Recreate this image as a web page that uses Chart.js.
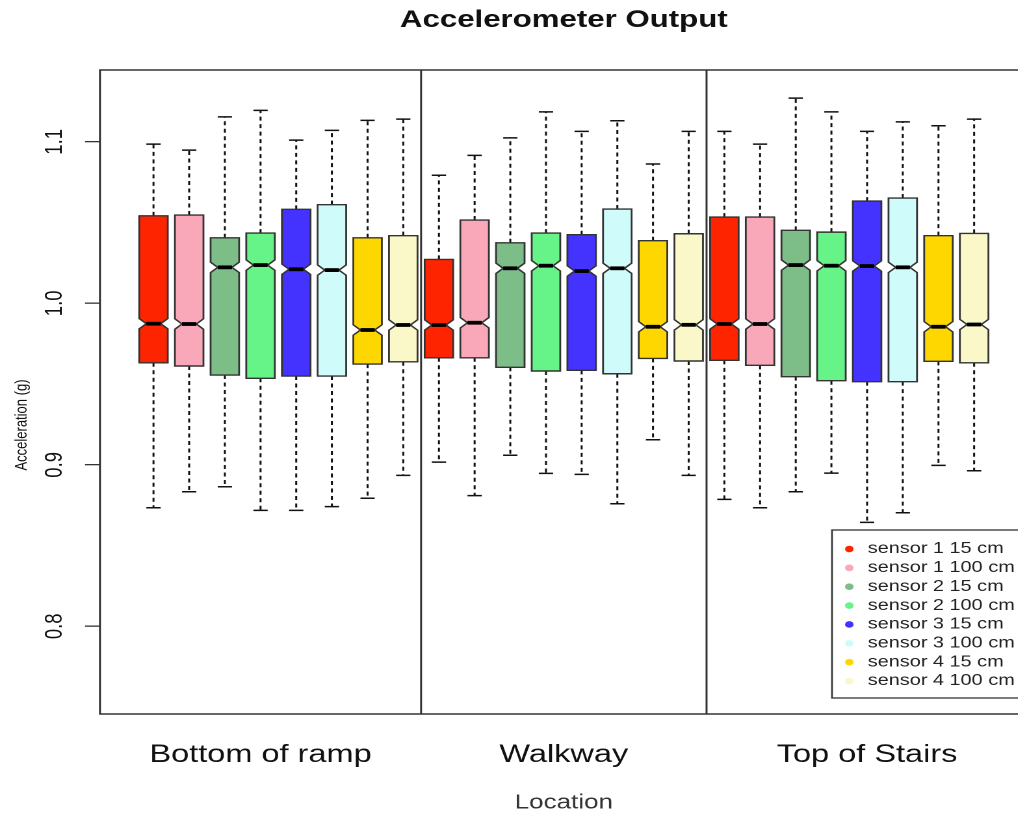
<!DOCTYPE html>
<html>
<head>
<meta charset="utf-8">
<title>Accelerometer Output</title>
<script src="https://cdn.jsdelivr.net/npm/chart.js@4.4.1/dist/chart.umd.min.js"></script>
<style>
  html, body { margin: 0; padding: 0; background: #fff; overflow: hidden; width: 1018px; height: 815px; }
  /* the original picture is stretched sideways, so the canvas is too */
  #wrap { width: 868px; height: 815px; transform: scaleX(1.3); transform-origin: 0 0; }
</style>
</head>
<body>
<div id="wrap"><canvas id="accel" width="868" height="815"></canvas></div>
<script>
///////////////////////////////// DATA /////////////////////////////////////

const locations = ['Bottom of ramp', 'Walkway', 'Top of Stairs'];
const locationTickPos = [4, 12.5, 21];

const sensors = [
  'sensor 1 15 cm', 'sensor 1 100 cm',
  'sensor 2 15 cm', 'sensor 2 100 cm',
  'sensor 3 15 cm', 'sensor 3 100 cm',
  'sensor 4 15 cm', 'sensor 4 100 cm'
];
const sensorColors = [
  '#FF2400', '#F9A8B9',
  '#7DBD88', '#66F388',
  '#4433FF', '#CFFCFB',
  '#FFD700', '#FAF8C8'
];

// one row per location, one value per sensor
const whiskerHigh = [
  [1.0986, 1.0949, 1.1155, 1.1195, 1.1011, 1.1071, 1.1133, 1.1141],
  [1.0793, 1.0916, 1.1025, 1.1186, 1.1065, 1.1131, 1.0863, 1.1065],
  [1.1065, 1.0986, 1.1271, 1.1186, 1.1065, 1.1124, 1.1100, 1.1141]
];
const upperHinge = [
  [1.0542, 1.0547, 1.0406, 1.0435, 1.0582, 1.0611, 1.0406, 1.0419],
  [1.0272, 1.0516, 1.0375, 1.0435, 1.0425, 1.0584, 1.0388, 1.0431],
  [1.0534, 1.0534, 1.0452, 1.0441, 1.0633, 1.0652, 1.0419, 1.0433]
];
const medians = [
  [0.9874, 0.9872, 1.0223, 1.0237, 1.0211, 1.0206, 0.9835, 0.9866],
  [0.9866, 0.9880, 1.0217, 1.0233, 1.0200, 1.0217, 0.9855, 0.9867],
  [0.9872, 0.9872, 1.0237, 1.0233, 1.0231, 1.0223, 0.9855, 0.9869]
];
const lowerHinge = [
  [0.9632, 0.9612, 0.9556, 0.9536, 0.9550, 0.9550, 0.9624, 0.9638],
  [0.9663, 0.9663, 0.9604, 0.9581, 0.9585, 0.9564, 0.9659, 0.9643],
  [0.9647, 0.9616, 0.9546, 0.9521, 0.9515, 0.9515, 0.9641, 0.9632]
];
const whiskerLow = [
  [0.8734, 0.8833, 0.8864, 0.8718, 0.8718, 0.8741, 0.8793, 0.8935],
  [0.9017, 0.8809, 0.9059, 0.8947, 0.8941, 0.8759, 0.9155, 0.8935],
  [0.8786, 0.8734, 0.8833, 0.8949, 0.8644, 0.8703, 0.8997, 0.8963]
];
const notchHalf = 0.0032;

const yTicks = [0.8, 0.9, 1.0, 1.1];
const yTickLabels = ['0.8', '0.9', '1.0', '1.1'];

///////////////////////////////// PLUGIN /////////////////////////////////////

const FONT = '"Liberation Sans", Arial, Helvetica, sans-serif';
Chart.defaults.font.family = FONT;

// Notched boxes (R style)
const notchedBoxes = {
  id: 'notchedBoxes',
  afterDatasetsDraw(chart) {
    const ctx = chart.ctx, xs = chart.scales.x, ys = chart.scales.y;
    const halfW = (xs.getPixelForValue(0.8) - xs.getPixelForValue(0)) / 2;
    ctx.save();
    locations.forEach((loc, g) => {
      sensors.forEach((name, s) => {
        const cx = xs.getPixelForValue(g * 8 + s + 1);
        const yHi = ys.getPixelForValue(whiskerHigh[g][s]);
        const yQ3 = ys.getPixelForValue(upperHinge[g][s]);
        const yMed = ys.getPixelForValue(medians[g][s]);
        const yQ1 = ys.getPixelForValue(lowerHinge[g][s]);
        const yLo = ys.getPixelForValue(whiskerLow[g][s]);
        const yN1 = ys.getPixelForValue(medians[g][s] + notchHalf);
        const yN2 = ys.getPixelForValue(medians[g][s] - notchHalf);
        const xl = cx - halfW, xr = cx + halfW, nw = halfW / 2;

        // whiskers
        ctx.strokeStyle = '#111';
        ctx.lineWidth = 1.5;
        ctx.setLineDash([4, 3.5]);
        ctx.beginPath();
        ctx.moveTo(cx, yQ3); ctx.lineTo(cx, yHi);
        ctx.moveTo(cx, yQ1); ctx.lineTo(cx, yLo);
        ctx.stroke();
        ctx.setLineDash([]);
        ctx.beginPath();
        ctx.moveTo(cx - halfW / 2, yHi); ctx.lineTo(cx + halfW / 2, yHi);
        ctx.moveTo(cx - halfW / 2, yLo); ctx.lineTo(cx + halfW / 2, yLo);
        ctx.stroke();

        // box with notch
        ctx.beginPath();
        ctx.moveTo(xl, yQ3);
        ctx.lineTo(xr, yQ3);
        ctx.lineTo(xr, yN1);
        ctx.lineTo(xr - nw, yMed);
        ctx.lineTo(xr, yN2);
        ctx.lineTo(xr, yQ1);
        ctx.lineTo(xl, yQ1);
        ctx.lineTo(xl, yN2);
        ctx.lineTo(xl + nw, yMed);
        ctx.lineTo(xl, yN1);
        ctx.closePath();
        ctx.fillStyle = sensorColors[s];
        ctx.fill();
        ctx.strokeStyle = '#333';
        ctx.lineWidth = 1.4;
        ctx.stroke();

        // median
        ctx.strokeStyle = '#000';
        ctx.lineWidth = 3.8;
        ctx.beginPath();
        ctx.moveTo(xl + nw, yMed); ctx.lineTo(xr - nw, yMed);
        ctx.stroke();
      });
    });
    ctx.restore();
  },
  afterDraw(chart) {
    const ctx = chart.ctx, xs = chart.scales.x, ys = chart.scales.y;
    const a = chart.chartArea;
    ctx.save();

    // frame + location dividers
    ctx.strokeStyle = '#333';
    ctx.lineWidth = 1.5;
    ctx.strokeRect(a.left, a.top, a.right - a.left, a.bottom - a.top);
    [8.5, 16.5].forEach(v => {
      const x = xs.getPixelForValue(v);
      ctx.beginPath(); ctx.moveTo(x, a.top); ctx.lineTo(x, a.bottom); ctx.stroke();
    });

    // y tick labels, parallel to the axis
    ctx.fillStyle = '#111';
    ctx.font = '18.5px ' + FONT;
    ctx.textAlign = 'center';
    ctx.textBaseline = 'middle';
    yTicks.forEach((v, i) => {
      ctx.save();
      ctx.translate(42.5, ys.getPixelForValue(v));
      ctx.rotate(-Math.PI / 2);
      ctx.fillText(yTickLabels[i], 0, 0);
      ctx.restore();
    });

    // y title
    ctx.save();
    ctx.font = '13px ' + FONT;
    ctx.translate(17, 425);
    ctx.rotate(-Math.PI / 2);
    ctx.fillText('Acceleration (g)', 0, 0);
    ctx.restore();

    // legend, bottom right inside the plot (its right side is cut off)
    const lx = 640, ly = a.top + 460, lb = a.bottom - 16, lr = a.right + 20;
    ctx.fillStyle = '#fff';
    ctx.fillRect(lx, ly, lr - lx, lb - ly);
    ctx.strokeStyle = '#333';
    ctx.lineWidth = 1.3;
    ctx.strokeRect(lx, ly, lr - lx, lb - ly);
    ctx.font = '15.3px ' + FONT;
    ctx.textAlign = 'left';
    chart.data.datasets.forEach((ds, i) => {
      const y = ly + 19 + i * 18.86;
      ctx.fillStyle = ds.backgroundColor;
      ctx.beginPath(); ctx.arc(653.3, y, 3.3, 0, Math.PI * 2); ctx.fill();
      ctx.fillStyle = '#222';
      ctx.fillText(ds.label, 667.5, y);
    });
    ctx.restore();
  }
};

///////////////////////////////// CHART /////////////////////////////////////

const datasets = sensors.map((name, s) => ({
  label: name,
  backgroundColor: sensorColors[s],
  borderColor: sensorColors[s],
  pointRadius: 0,
  data: locations.map((loc, g) => ({ x: g * 8 + s + 1, y: medians[g][s] }))
}));

const config = {
  type: 'scatter',
  data: { datasets },
  options: {
    responsive: false,
    animation: false,
    devicePixelRatio: 2,
    layout: { padding: { left: 0, right: 77.5, top: 0, bottom: 0 } },
    plugins: {
      legend: { display: false },
      tooltip: { enabled: false },
      title: {
        display: true,
        fullSize: false,
        text: 'Accelerometer Output',
        color: '#111',
        font: { size: 24, weight: 'bold' },
        padding: { top: 6, bottom: 35.2 }
      }
    },
    scales: {
      x: {
        type: 'linear',
        min: -0.5,
        max: 25.5,
        grid: { display: false, drawTicks: false },
        border: { display: false },
        afterBuildTicks: (scale) => { scale.ticks = locationTickPos.map(v => ({ value: v })); },
        afterFit: (scale) => { scale.height = 101; },
        ticks: {
          autoSkip: false,
          maxRotation: 0,
          minRotation: 0,
          padding: 26,
          color: '#111',
          font: { size: 25 },
          callback: (v) => locations[locationTickPos.indexOf(v)]
        },
        title: {
          display: true,
          text: 'Location',
          color: '#333',
          font: { size: 20 },
          padding: { top: 0, bottom: 0 }
        }
      },
      y: {
        min: 0.7457,
        max: 1.1445,
        grid: { display: true, drawOnChartArea: false, drawTicks: true, tickLength: 11.5, color: '#333', lineWidth: 1.3 },
        border: { display: false },
        afterBuildTicks: (scale) => { scale.ticks = yTicks.map(v => ({ value: v })); },
        afterFit: (scale) => { scale.width = 76.9; },
        ticks: { display: false }
      }
    }
  },
  plugins: [notchedBoxes]
};

const ACCEL_CHART = new Chart(document.getElementById('accel'), config);
</script>
</body>
</html>
